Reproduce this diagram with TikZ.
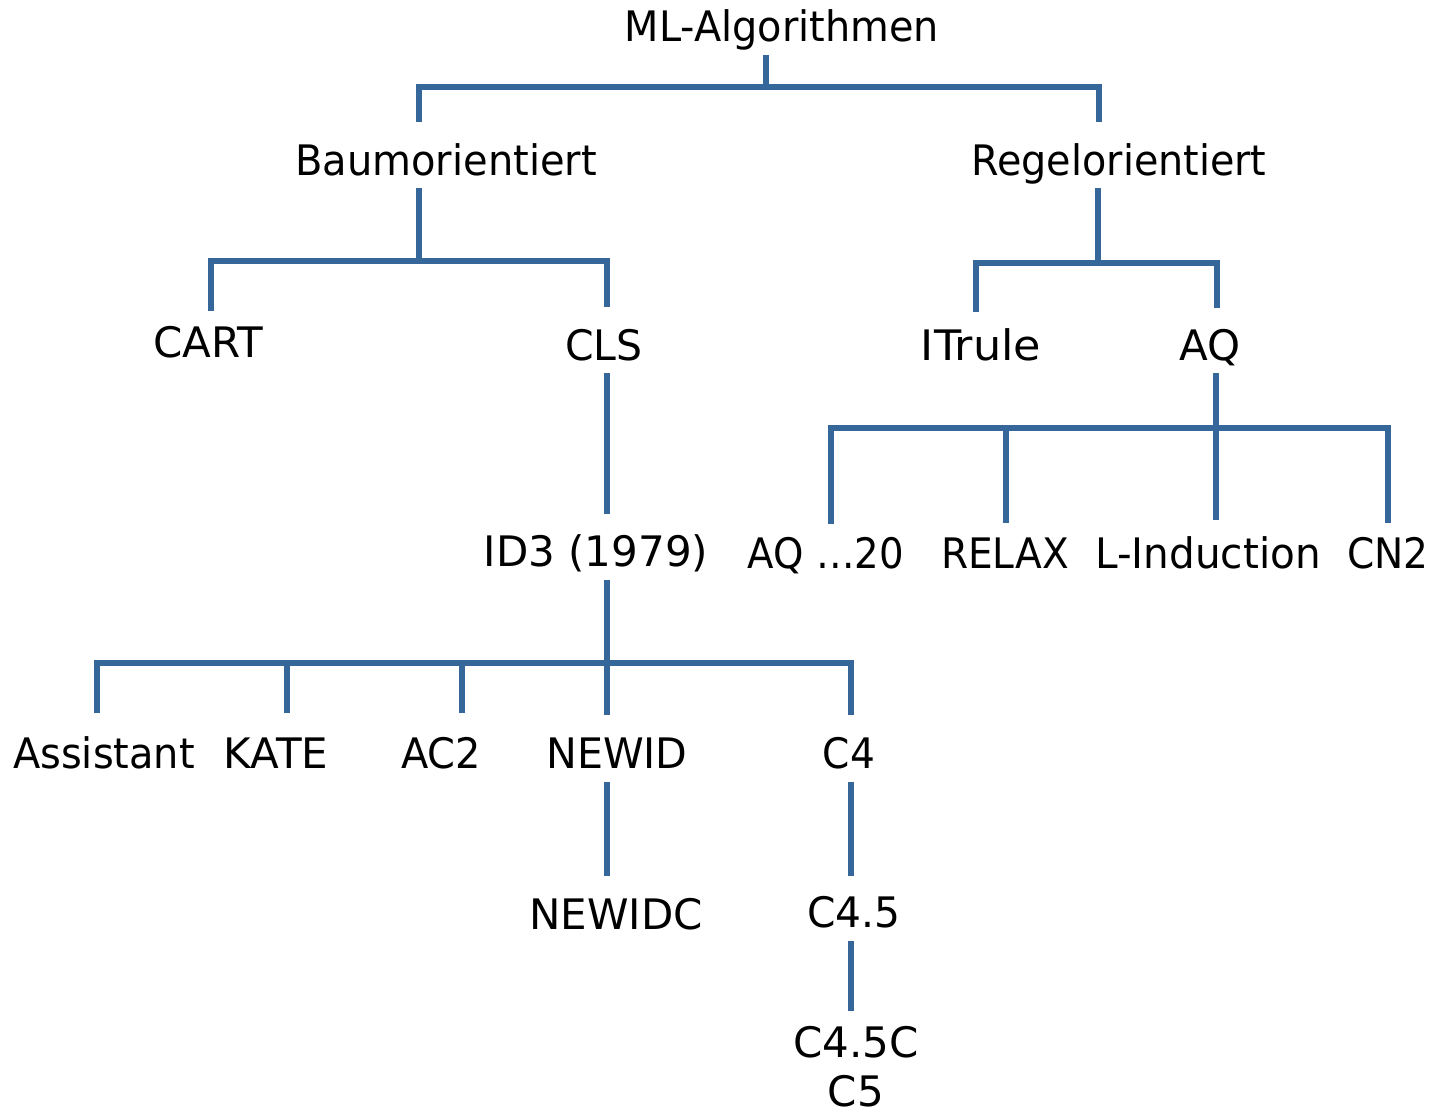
\documentclass[tikz,border=0pt]{standalone}
\usepackage{fontspec}
\setmainfont{DejaVu Sans}
\definecolor{linkblue}{RGB}{54,103,155}
% horizontally condensed label text
\newcommand\hsq[2]{\scalebox{#1}[1]{#2}}
\begin{document}
\begin{tikzpicture}[x=0.75pt,y=-0.75pt,
  lbl/.style={anchor=base,inner sep=0pt,font=\fontsize{31.5}{34}\selectfont},
  link/.style={draw=linkblue,line width=4.1pt,line cap=butt}]
\useasboundingbox (0,0) rectangle (1445,1111);

% labels
\node[lbl] (ml)    at (782,41)  {\hsq{0.948}{ML-Algorithmen}};
\node[lbl] (bau)   at (446,175) {\hsq{0.952}{Baumorientiert}};
\node[lbl] (regel) at (1119,175) {\hsq{0.945}{Regelorientiert}};
\node[lbl] (cart)  at (208,357) {CART};
\node[lbl] (cls)   at (604,360) {\hsq{0.975}{CLS}};
\node[lbl] (itr)   at (981,360) {\hsq{1.06}{ITrule}};
\node[lbl] (aq)    at (1210,360) {AQ};
\node[lbl] (id3)   at (596,566) {ID3 (1979)};
\node[lbl] (aq20)  at (826,568) {\hsq{0.92}{AQ …20}};
\node[lbl] (relax) at (1005,568) {\hsq{0.93}{RELAX}};
\node[lbl] (lind)  at (1208,568) {\hsq{0.965}{L-Induction}};
\node[lbl] (cn2)   at (1388,568) {\hsq{0.93}{CN2}};
\node[lbl] (assi)  at (104,768) {\hsq{0.95}{Assistant}};
\node[lbl] (kate)  at (276,768) {KATE};
\node[lbl] (ac2)   at (441,768) {\hsq{0.95}{AC2}};
\node[lbl] (newid) at (617,768) {\hsq{0.98}{NEWID}};
\node[lbl] (cfour) at (849,768) {\hsq{0.93}{C4}};
\node[lbl] (newidc) at (616,929) {NEWIDC};
\node[lbl] (cfive) at (854,927) {\hsq{0.97}{C4.5}};
\node[lbl] (cfivec) at (856,1106) {\shortstack{C4.5C\\[9.7pt]C5}};

% connector ends
\coordinate (ml-o)    at (766,55);
\coordinate (bau-i)   at (419,122);
\coordinate (regel-i) at (1099,122);
\coordinate (bau-o)   at (419,188);
\coordinate (regel-o) at (1098,188);
\coordinate (cart-i)  at (211,311);
\coordinate (cls-i)   at (607,307);
\coordinate (itr-i)   at (976,312);
\coordinate (aq-i)    at (1217,308);
\coordinate (cls-o)   at (607,373);
\coordinate (aq-o)    at (1216,373);
\coordinate (id3-i)   at (607,514);
\coordinate (aq20-i)  at (831,524);
\coordinate (relax-i) at (1006,523);
\coordinate (lind-i)  at (1216,520);
\coordinate (cn2-i)   at (1388,523);
\coordinate (id3-o)   at (607,580);
\coordinate (assi-i)  at (97,713);
\coordinate (kate-i)  at (287,713);
\coordinate (ac2-i)   at (462,713);
\coordinate (newid-i) at (607,715);
\coordinate (cfour-i) at (851,715);
\coordinate (newid-o) at (607,782);
\coordinate (cfour-o) at (851,782);
\coordinate (newidc-i) at (607,876);
\coordinate (cfive-i) at (851,876);
\coordinate (cfive-o) at (851,941);
\coordinate (cfivec-i) at (851,1011);

% bar levels
\coordinate (bar1) at (0,87);
\coordinate (bar2) at (0,261);
\coordinate (bar3) at (0,263);
\coordinate (bar4) at (0,428);
\coordinate (bar5) at (0,663);

% ML-Algorithmen
\draw[link] (ml-o) -- (ml-o |- bar1);
\draw[link] ([xshift=-2pt]bau-i |- bar1) -- ([xshift=2pt]regel-i |- bar1);
\foreach \c in {bau,regel} \draw[link] (\c-i |- bar1) -- (\c-i);

% Baumorientiert
\draw[link] (bau-o) -- (bau-o |- bar2);
\draw[link] ([xshift=-2pt]cart-i |- bar2) -- ([xshift=2pt]cls-i |- bar2);
\foreach \c in {cart,cls} \draw[link] (\c-i |- bar2) -- (\c-i);

% Regelorientiert
\draw[link] (regel-o) -- (regel-o |- bar3);
\draw[link] ([xshift=-2pt]itr-i |- bar3) -- ([xshift=2pt]aq-i |- bar3);
\foreach \c in {itr,aq} \draw[link] (\c-i |- bar3) -- (\c-i);

% AQ
\draw[link] (aq-o) -- (aq-o |- bar4);
\draw[link] ([xshift=-2pt]aq20-i |- bar4) -- ([xshift=2pt]cn2-i |- bar4);
\foreach \c in {aq20,relax,lind,cn2} \draw[link] (\c-i |- bar4) -- (\c-i);

% CLS
\draw[link] (cls-o) -- (id3-i);

% ID3
\draw[link] (id3-o) -- (id3-o |- bar5);
\draw[link] ([xshift=-2pt]assi-i |- bar5) -- ([xshift=2pt]cfour-i |- bar5);
\foreach \c in {assi,kate,ac2,newid,cfour} \draw[link] (\c-i |- bar5) -- (\c-i);

% single chains
\draw[link] (newid-o) -- (newidc-i);
\draw[link] (cfour-o) -- (cfive-i);
\draw[link] (cfive-o) -- (cfivec-i);
\end{tikzpicture}
\end{document}
